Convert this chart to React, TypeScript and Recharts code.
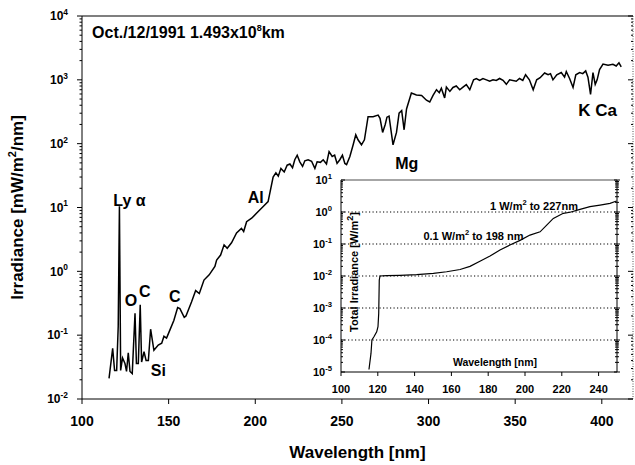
import { LineChart, Line, XAxis, YAxis, ReferenceLine, ReferenceDot, CartesianGrid } from "recharts"

const FONT = "Arial, 'Liberation Sans', Helvetica, sans-serif"

// main spectrum, wavelength [nm] vs irradiance [mW/m2/nm]
const wavelength = [
  115.6, 117.7, 118.8, 120.0, 120.9, 121.6, 122.3, 123.4, 124.8, 125.7, 126.7, 127.7, 129.0, 130.6, 131.4,
  132.5, 133.6, 134.4, 135.8, 137.0, 138.3, 139.6, 141.5, 144.0, 146.0, 147.3, 148.8, 150.7, 153.0, 155.2,
  156.5, 159.0, 160.0, 163.2, 165.6, 167.7, 170.4, 173.4, 176.7, 177.7, 180.0, 182.0, 183.8, 186.3, 189.2,
  192.0, 193.3, 195.0, 197.9, 200.7, 204.6, 207.4, 210.3, 211.9, 213.3, 214.8, 216.7, 218.4, 220.0, 221.5,
  222.8, 224.2, 225.7, 227.3, 228.6, 230.5, 232.5, 234.4, 235.7, 237.6, 239.2, 241.1, 242.6, 244.4, 245.8,
  247.2, 248.8, 250.3, 251.7, 252.7, 254.6, 256.5, 258.0, 259.3, 261.3, 263.0, 265.1, 268.0, 270.9, 272.0,
  273.5, 275.0, 276.0, 277.2, 279.5, 281.5, 283.0, 284.5, 285.9, 287.3, 290.1, 293.0, 296.0, 298.8, 300.7,
  302.6, 304.6, 306.2, 307.4, 309.3, 310.3, 312.3, 314.1, 316.0, 318.0, 319.9, 321.8, 323.8, 326.0, 327.6,
  329.5, 331.4, 333.4, 335.3, 337.2, 339.1, 341.0, 343.0, 344.9, 346.8, 350.6, 352.5, 354.4, 356.0, 358.2,
  360.4, 362.4, 364.4, 367.0, 369.0, 370.4, 371.8, 374.0, 376.6, 378.5, 379.5, 381.4, 383.4, 385.0, 387.2,
  389.0, 390.7, 392.0, 393.5, 394.9, 396.2, 397.3, 398.7, 400.7, 403.6, 406.4, 408.3, 409.9, 411.2,
]
const irradiance = [
  0.021, 0.062, 0.028, 0.028, 0.136, 10.5, 0.028, 0.044, 0.036, 0.027, 0.053, 0.027, 0.025, 0.22, 0.036,
  0.036, 0.3, 0.038, 0.055, 0.04, 0.04, 0.124, 0.058, 0.07, 0.075, 0.096, 0.09, 0.12, 0.17, 0.27,
  0.26, 0.19, 0.2, 0.33, 0.5, 0.45, 0.73, 0.88, 1.19, 1.5, 1.8, 2.6, 2.3, 2.8, 4.0,
  4.7, 4.2, 6.0, 6.8, 8.1, 10.4, 12.4, 30, 35, 31, 41, 36, 46, 48, 42,
  56, 66, 52, 44, 54, 56, 53, 41, 52, 51, 56, 48, 75, 63, 66,
  49, 56, 66, 49, 47, 63, 96, 138, 115, 96, 115, 265, 265, 280, 250,
  150, 200, 260, 270, 96, 150, 300, 330, 165, 350, 620, 580, 570, 480, 450,
  570, 700, 630, 740, 520, 770, 660, 760, 800, 700, 770, 840, 700, 1000, 1050,
  980, 1050, 1000, 950, 1000, 980, 1050, 980, 850, 1000, 950, 1050, 980, 1200, 1000,
  700, 1000, 1080, 1280, 1200, 1250, 1000, 1200, 1300, 1100, 1350, 1050, 760, 1200, 1300,
  1250, 1380, 1100, 590, 1300, 850, 1000, 1450, 1770, 1700, 1750, 1650, 1850, 1600,
]

// inset: integrated irradiance [W/m2] up to wavelength
const insetWavelength = [
  115.2, 116.3, 116.8, 117.9, 119.4, 120.1, 120.5, 120.8, 121.2, 124.8, 132.0, 141.1, 150.2, 157.4, 164.7,
  170.1, 175.5, 181.0, 186.4, 191.8, 197.3, 202.7, 208.2, 211.8, 215.4, 220.8, 224.5, 229.9, 235.3, 240.8,
  246.2, 249.8,
]
const insetTotal = [
  1.2e-5, 3.8e-5, 1e-4, 1.26e-4, 1.8e-4, 2.6e-4, 6.8e-4, 7.5e-3, 1e-2, 1.03e-2, 1.05e-2, 1.1e-2, 1.2e-2, 1.36e-2, 1.6e-2,
  2.0e-2, 2.9e-2, 4.2e-2, 6.5e-2, 9.3e-2, 0.13, 0.19, 0.24, 0.39, 0.63, 0.91, 0.98, 1.21, 1.47, 1.65,
  1.87, 2.2,
]

const mainXTicks = [100, 150, 200, 250, 300, 350, 400]
const mainDecades = [-2, -1, 0, 1, 2, 3, 4]
const insetXTicks = [100, 120, 140, 160, 180, 200, 220, 240]
const insetDecades = [-5, -4, -3, -2, -1, 0, 1]
const insetGrid = [1e-4, 1e-3, 1e-2, 1e-1, 1]

const mainNotes = [
  { text: "Ly α", wl: 127.4, v: 13.2 },
  { text: "O", wl: 128.3, v: 0.35 },
  { text: "C", wl: 136.3, v: 0.49 },
  { text: "C", wl: 153.6, v: 0.4 },
  { text: "Si", wl: 144.1, v: 0.0285 },
  { text: "Al", wl: 200.3, v: 14.7 },
  { text: "Mg", wl: 287.4, v: 50 },
  { text: "K Ca", wl: 397.6, v: 340 },
]

const mainData = wavelength.map((wl, i) => ({ wl, v: irradiance[i] }))
const insetData = insetWavelength.map((wl, i) => ({ wl, v: insetTotal[i] }))

function logTicks(decades: number[]) {
  const out: number[] = []
  decades.forEach((d, i) => {
    out.push(Math.pow(10, d))
    if (i < decades.length - 1) for (let k = 2; k <= 9; k++) out.push(k * Math.pow(10, d))
  })
  return out
}
const mainYTicks = logTicks(mainDecades)
const insetYTicks = logTicks(insetDecades)

const isMajor = (v: number) => {
  const e = Math.log10(v)
  return Math.abs(e - Math.round(e)) < 1e-6
}

function PowTick({ x, y, payload, dir, majorLen, minorLen, gap, fs, label }: any) {
  const v = payload.value
  const major = isMajor(v)
  const len = major ? majorLen : minorLen
  return (
    <g>
      <line x1={x - dir[0] * len} x2={x + dir[1] * len} y1={y} y2={y} stroke="#000" strokeWidth={1} />
      {label && major && (
        <text x={x - gap} y={y} dy={fs * 0.36} textAnchor="end" fontSize={fs} fontWeight={700} fontFamily={FONT} fill="#000">
          10<tspan dy={-fs * 0.45} fontSize={fs * 0.7}>{Math.round(Math.log10(v))}</tspan>
        </text>
      )}
    </g>
  )
}

const Note = (text: string, fs: number, anchor: string) => (p: any) => (
  <text x={p.cx} y={p.cy} dy={fs * 0.36} textAnchor={anchor} fontSize={fs} fontWeight={700} fontFamily={FONT} fill="#000">
    {text}
  </text>
)

export default function App() {
  return (
    <div style={{ position: "absolute", left: 0, top: 0, width: 635, height: 465, background: "#fff", overflow: "hidden" }}>
      <div style={{ position: "absolute", left: 0, top: 0 }}>
        <LineChart width={635} height={465} data={mainData} margin={{ top: 16, right: 0, bottom: 0, left: 0 }}>
          <XAxis
            dataKey="wl"
            type="number"
            domain={[100, 418]}
            allowDataOverflow
            ticks={mainXTicks}
            interval={0}
            height={66}
            tickSize={5}
            tickMargin={12}
            stroke="#000"
            tick={{ fill: "#000", fontSize: 14, fontWeight: 700, fontFamily: FONT }}
            label={(p: any) => (
              <text
                x={p.viewBox.x + p.viewBox.width / 2}
                y={p.viewBox.y + p.viewBox.height - 7}
                textAnchor="middle"
                fontSize={17}
                fontWeight={700}
                fontFamily={FONT}
                fill="#000"
              >
                Wavelength [nm]
              </text>
            )}
          />
          <YAxis
            yAxisId="l"
            type="number"
            scale="log"
            domain={[0.01, 10000]}
            allowDataOverflow
            ticks={mainYTicks}
            interval={0}
            width={82}
            tickSize={0}
            tickMargin={0}
            tickLine={false}
            axisLine={{ stroke: "#000" }}
            tick={(p: any) => <PowTick {...p} dir={[1, 0]} majorLen={5} minorLen={2.5} gap={14} fs={12} label />}
            label={(p: any) => {
              const cx = 23
              const cy = p.viewBox.y + p.viewBox.height / 2
              return (
                <text
                  x={cx}
                  y={cy}
                  transform={`rotate(-90 ${cx} ${cy})`}
                  textAnchor="middle"
                  fontSize={17}
                  fontWeight={700}
                  fontFamily={FONT}
                  fill="#000"
                >
                  Irradiance [mW/m<tspan dy={-7} fontSize={11}>2</tspan>
                  <tspan dy={7}>/nm]</tspan>
                </text>
              )
            }}
          />
          <YAxis
            yAxisId="r"
            orientation="right"
            type="number"
            scale="log"
            domain={[0.01, 10000]}
            allowDataOverflow
            ticks={mainYTicks}
            interval={0}
            width={2}
            tickSize={0}
            tickMargin={0}
            tickLine={false}
            axisLine={{ stroke: "#555", strokeDasharray: "1 1.5" }}
            tick={(p: any) => <PowTick {...p} dir={[1, 0]} majorLen={5} minorLen={2} gap={0} fs={12} />}
          />
          <ReferenceLine yAxisId="l" y={10000} stroke="#000" strokeWidth={1.2} />
          <Line
            yAxisId="l"
            dataKey="v"
            type="linear"
            stroke="#000"
            strokeWidth={1.5}
            dot={false}
            isAnimationActive={false}
          />
          {mainNotes.map((n, i) => (
            <ReferenceDot key={i} yAxisId="l" x={n.wl} y={n.v} r={0} shape={Note(n.text, n.text === "K Ca" ? 17 : 16, "middle")} />
          ))}
          <ReferenceDot
            yAxisId="l"
            x={105.8}
            y={5600}
            r={0}
            shape={(p: any) => (
              <text x={p.cx} y={p.cy} dy={5.8} textAnchor="start" fontSize={16} fontWeight={700} fontFamily={FONT} fill="#000">
                Oct./12/1991 1.493x10<tspan dy={-7} fontSize={9}>8</tspan>
                <tspan dy={7}>km</tspan>
              </text>
            )}
          />
        </LineChart>
      </div>

      <div style={{ position: "absolute", left: 290, top: 172 }}>
        <LineChart width={332} height={230} data={insetData} margin={{ top: 8, right: 0, bottom: 0, left: 0 }}>
          <CartesianGrid horizontal={false} vertical={false} fill="#fff" stroke="none" yAxisId="l" />
          <XAxis
            dataKey="wl"
            type="number"
            domain={[100, 250]}
            allowDataOverflow
            ticks={insetXTicks}
            interval={0}
            height={30}
            tickSize={4}
            tickMargin={9}
            stroke="#000"
            tick={{ fill: "#000", fontSize: 11, fontWeight: 700, fontFamily: FONT }}
            label={(p: any) => (
              <text
                x={p.viewBox.x + p.viewBox.width / 2 + 16}
                y={p.viewBox.y - 6}
                textAnchor="middle"
                fontSize={10.5}
                fontWeight={700}
                fontFamily={FONT}
                fill="#000"
              >
                Wavelength [nm]
              </text>
            )}
          />
          <YAxis
            yAxisId="l"
            type="number"
            scale="log"
            domain={[1e-5, 10]}
            allowDataOverflow
            ticks={insetYTicks}
            interval={0}
            width={51}
            tickSize={0}
            tickMargin={0}
            tickLine={false}
            axisLine={{ stroke: "#000" }}
            tick={(p: any) => <PowTick {...p} dir={[0, 1]} majorLen={4} minorLen={2} gap={9} fs={11} label />}
            label={(p: any) => {
              const cx = p.viewBox.x + p.viewBox.width + 17
              const cy = p.viewBox.y + p.viewBox.height / 2 - 4
              return (
                <text
                  x={cx}
                  y={cy}
                  transform={`rotate(-90 ${cx} ${cy})`}
                  textAnchor="middle"
                  fontSize={11}
                  fontWeight={700}
                  fontFamily={FONT}
                  fill="#000"
                >
                  Total Irradiance [W/m<tspan dy={-5} fontSize={9}>2</tspan>
                  <tspan dy={5}>]</tspan>
                </text>
              )
            }}
          />
          <YAxis
            yAxisId="r"
            orientation="right"
            type="number"
            scale="log"
            domain={[1e-5, 10]}
            allowDataOverflow
            ticks={insetYTicks}
            interval={0}
            width={5}
            tickSize={0}
            tickMargin={0}
            tickLine={false}
            axisLine={{ stroke: "#000" }}
            tick={(p: any) => <PowTick {...p} dir={[1, 1]} majorLen={3} minorLen={2} gap={0} fs={11} />}
          />
          {insetGrid.map((g) => (
            <ReferenceLine key={g} yAxisId="l" y={g} stroke="#000" strokeWidth={1.2} strokeDasharray="1.2 2.3" />
          ))}
          <ReferenceLine yAxisId="l" y={10} stroke="#888" strokeWidth={1.5} />
          <Line
            yAxisId="l"
            dataKey="v"
            type="linear"
            stroke="#000"
            strokeWidth={1.2}
            dot={false}
            isAnimationActive={false}
          />
          <ReferenceDot
            yAxisId="l"
            x={204.9}
            y={1.54}
            r={0}
            shape={(p: any) => (
              <text x={p.cx} y={p.cy} dy={4} textAnchor="middle" fontSize={11} fontWeight={700} fontFamily={FONT} fill="#000">
                1 W/m<tspan dy={-5} fontSize={7.5}>2</tspan>
                <tspan dy={5}> to 227nm</tspan>
              </text>
            )}
          />
          <ReferenceDot
            yAxisId="l"
            x={172}
            y={0.178}
            r={0}
            shape={(p: any) => (
              <text x={p.cx} y={p.cy} dy={4} textAnchor="middle" fontSize={11} fontWeight={700} fontFamily={FONT} fill="#000">
                0.1 W/m<tspan dy={-5} fontSize={7.5}>2</tspan>
                <tspan dy={5}> to 198 nm</tspan>
              </text>
            )}
          />
        </LineChart>
      </div>
    </div>
  )
}
